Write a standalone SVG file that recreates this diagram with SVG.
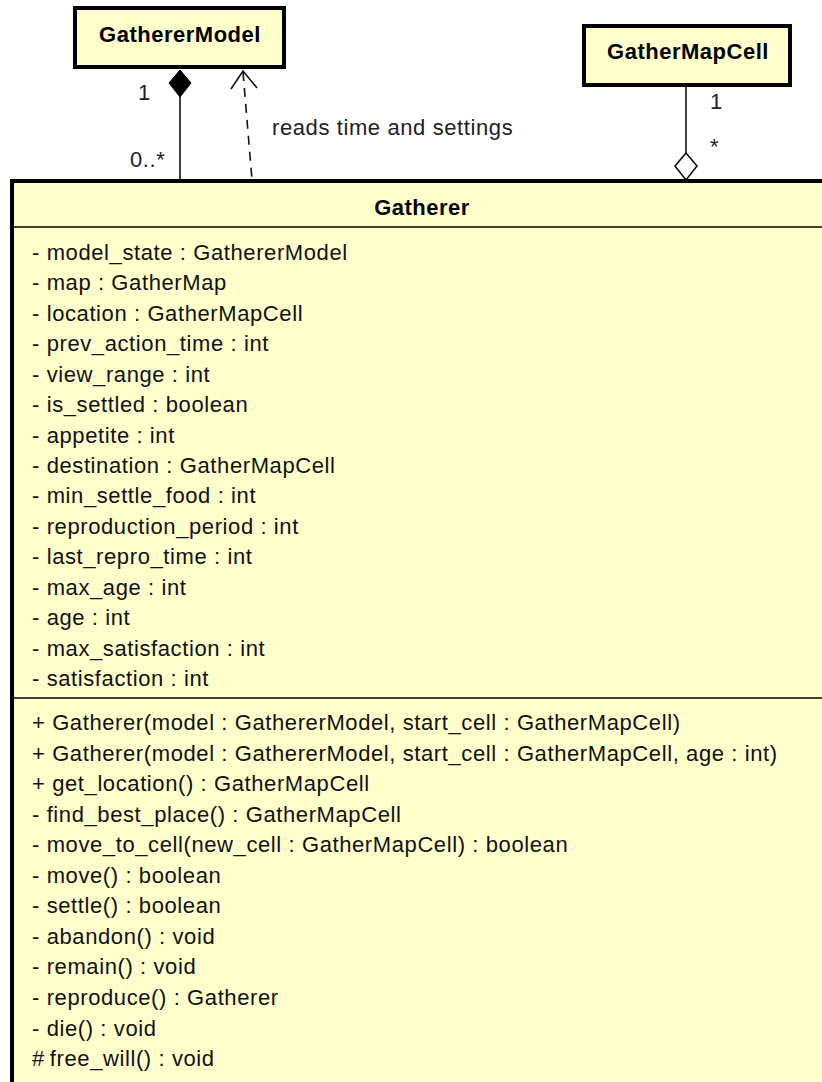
<svg xmlns="http://www.w3.org/2000/svg" width="822" height="1082" viewBox="0 0 822 1082">
  <style>
    .box { fill: #FFFFCC; stroke: #000; stroke-width: 4; }
    .sep { stroke: #000; stroke-width: 1.5; }
    .title { font-family: "Liberation Sans", Arial, sans-serif; font-weight: bold; font-size: 22px; fill: #000; text-anchor: middle; letter-spacing: 0.5px; }
    .member { font-family: "Liberation Sans", Arial, sans-serif; font-size: 22px; fill: #111; letter-spacing: 0.6px; }
    .label { font-family: "Liberation Sans", Arial, sans-serif; font-size: 22px; fill: #222; letter-spacing: 0.6px; }
    .edge { stroke: #111; stroke-width: 1.6; fill: none; }
  </style>

  <!-- associations between the classes -->
  <g id="connectors">
    <!-- composition: GathererModel owns Gatherer -->
    <line class="edge" x1="180" y1="96" x2="180" y2="181"/>
    <polygon points="180,70 191,83 180,97 169,83" fill="#000" stroke="#000" stroke-width="1"/>
    <text class="label" x="138" y="100">1</text>
    <text class="label" x="130" y="167">0..*</text>

    <!-- dependency: Gatherer reads GathererModel -->
    <line class="edge" x1="243" y1="72" x2="252" y2="180" stroke-dasharray="9 7"/>
    <polyline class="edge" points="231,89 243,71 257,88"/>
    <text class="label" x="272" y="135">reads time and settings</text>

    <!-- aggregation: Gatherer references GatherMapCell -->
    <line class="edge" x1="686" y1="87" x2="686" y2="153"/>
    <polygon points="686,153 697,166 686,180 675,166" fill="#fff" stroke="#111" stroke-width="1.6"/>
    <text class="label" x="710" y="109">1</text>
    <text class="label" x="710" y="154">*</text>
  </g>

  <g id="GathererModel">
    <rect class="box" x="75" y="8" width="209" height="59"/>
    <text class="title" x="180" y="42">GathererModel</text>
  </g>

  <g id="GatherMapCell">
    <rect class="box" x="584" y="26" width="206" height="59"/>
    <text class="title" x="688" y="59">GatherMapCell</text>
  </g>

  <g id="Gatherer">
    <rect class="box" x="12" y="181" width="830" height="920"/>
    <text class="title" x="422" y="215">Gatherer</text>
    <line class="sep" x1="12" y1="227" x2="822" y2="227"/>

    <!-- attributes -->
    <text class="member" x="32" y="260">- model_state : GathererModel</text>
    <text class="member" x="32" y="290.4">- map : GatherMap</text>
    <text class="member" x="32" y="320.9">- location : GatherMapCell</text>
    <text class="member" x="32" y="351.3">- prev_action_time : int</text>
    <text class="member" x="32" y="381.7">- view_range : int</text>
    <text class="member" x="32" y="412.1">- is_settled : boolean</text>
    <text class="member" x="32" y="442.6">- appetite : int</text>
    <text class="member" x="32" y="473">- destination : GatherMapCell</text>
    <text class="member" x="32" y="503.4">- min_settle_food : int</text>
    <text class="member" x="32" y="533.9">- reproduction_period : int</text>
    <text class="member" x="32" y="564.3">- last_repro_time : int</text>
    <text class="member" x="32" y="594.7">- max_age : int</text>
    <text class="member" x="32" y="625.1">- age : int</text>
    <text class="member" x="32" y="655.6">- max_satisfaction : int</text>
    <text class="member" x="32" y="686">- satisfaction : int</text>

    <line class="sep" x1="12" y1="698" x2="822" y2="698"/>

    <!-- operations -->
    <text class="member" x="32" y="730">+ Gatherer(model : GathererModel, start_cell : GatherMapCell)</text>
    <text class="member" x="32" y="760.5">+ Gatherer(model : GathererModel, start_cell : GatherMapCell, age : int)</text>
    <text class="member" x="32" y="791.1">+ get_location() : GatherMapCell</text>
    <text class="member" x="32" y="821.6">- find_best_place() : GatherMapCell</text>
    <text class="member" x="32" y="852.2">- move_to_cell(new_cell : GatherMapCell) : boolean</text>
    <text class="member" x="32" y="882.7">- move() : boolean</text>
    <text class="member" x="32" y="913.3">- settle() : boolean</text>
    <text class="member" x="32" y="943.8">- abandon() : void</text>
    <text class="member" x="32" y="974.4">- remain() : void</text>
    <text class="member" x="32" y="1004.9">- reproduce() : Gatherer</text>
    <text class="member" x="32" y="1035.5">- die() : void</text>
    <text class="member" x="32" y="1066">#&#8201;free_will() : void</text>
  </g>
</svg>
